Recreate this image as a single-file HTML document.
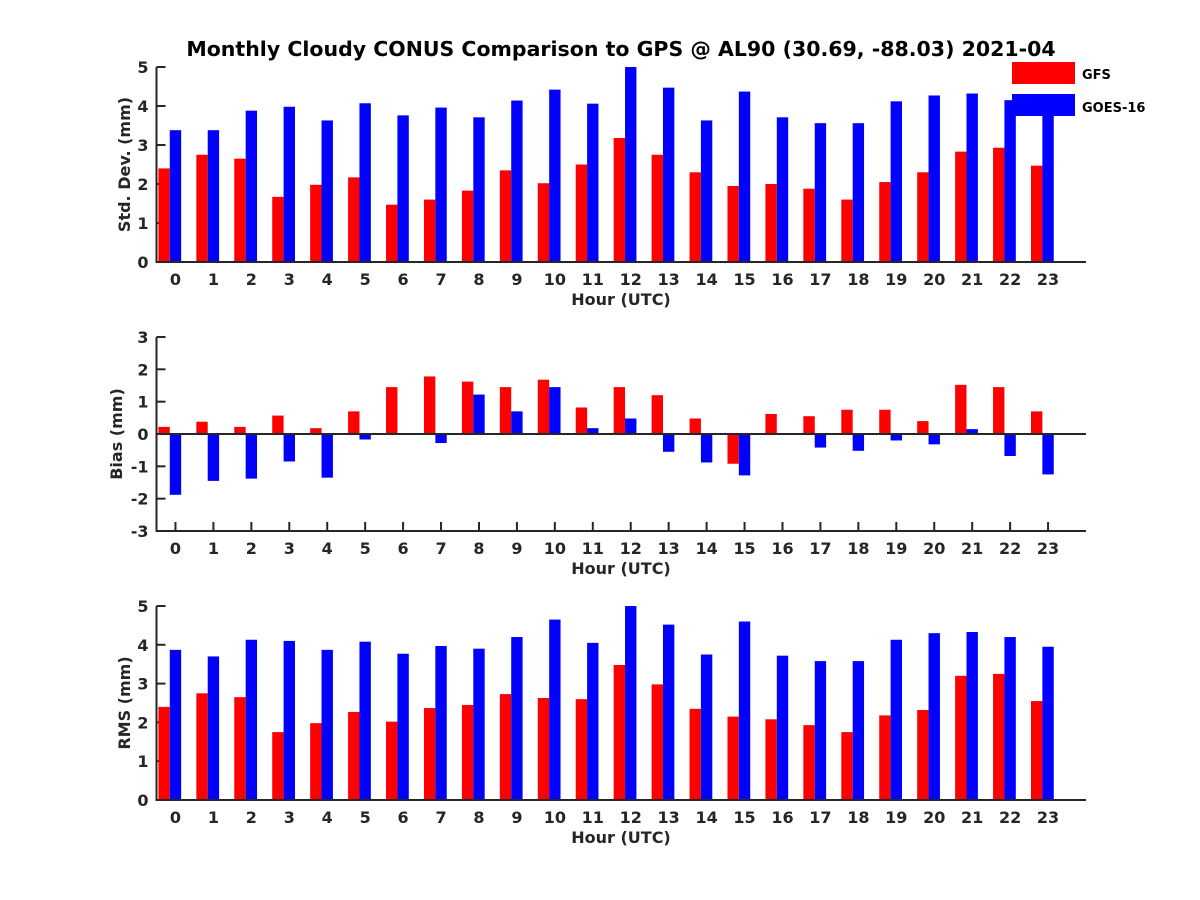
<!DOCTYPE html>
<html><head><meta charset="utf-8"><style>
body{margin:0;background:#fff;}
svg{display:block;font-family:"DejaVu Sans","Liberation Sans",sans-serif;font-weight:bold;}
</style></head><body>
<svg id="chart" width="1200" height="900" viewBox="0 0 1200 900"></svg>
<script>
const hours=[0,1,2,3,4,5,6,7,8,9,10,11,12,13,14,15,16,17,18,19,20,21,22,23];
const stdGFS=[2.4,2.75,2.65,1.67,1.98,2.17,1.47,1.6,1.83,2.35,2.02,2.5,3.18,2.75,2.3,1.95,2.0,1.88,1.6,2.05,2.3,2.83,2.93,2.47];
const stdGOES=[3.38,3.38,3.88,3.98,3.63,4.07,3.76,3.96,3.71,4.14,4.42,4.06,5.0,4.47,3.63,4.37,3.71,3.56,3.56,4.12,4.27,4.32,4.15,3.88];
const biasGFS=[0.22,0.38,0.22,0.57,0.18,0.7,1.45,1.78,1.62,1.45,1.68,0.82,1.45,1.2,0.48,-0.92,0.62,0.55,0.75,0.75,0.4,1.52,1.45,0.7];
const biasGOES=[-1.88,-1.45,-1.38,-0.85,-1.35,-0.17,0,-0.28,1.22,0.7,1.45,0.18,0.48,-0.55,-0.88,-1.28,0.03,-0.42,-0.52,-0.2,-0.32,0.15,-0.68,-1.25];
const rmsGFS=[2.4,2.75,2.65,1.75,1.98,2.27,2.02,2.37,2.45,2.73,2.63,2.6,3.48,2.98,2.35,2.15,2.08,1.93,1.75,2.18,2.32,3.2,3.25,2.55];
const rmsGOES=[3.87,3.7,4.13,4.1,3.87,4.08,3.77,3.97,3.9,4.2,4.65,4.05,5.0,4.52,3.75,4.6,3.72,3.58,3.58,4.13,4.3,4.33,4.2,3.95];
const stdTicks=[0,1,2,3,4,5];
const biasTicks=[-3,-2,-1,0,1,2,3];
const rmsTicks=[0,1,2,3,4,5];

const svg=document.getElementById('chart');
const NS='http://www.w3.org/2000/svg';
function mk(tag,attrs,parent){const e=document.createElementNS(NS,tag);for(const k in attrs)e.setAttribute(k,attrs[k]);(parent||svg).appendChild(e);return e;}
const X0=156.5,X1=1086,XMIN=-0.5,XMAX=24;
function xs(v){return X0+(v-XMIN)/(XMAX-XMIN)*(X1-X0);}
const BW=0.3;
const C='#262626';

function panel(name,top,bottom,ymin,ymax,ticks,red,blue,ylabel,ylx,zeroLine){
  const g=mk('g',{});
  
  
  const ys=v=>bottom-(v-ymin)/(ymax-ymin)*(bottom-top);
  hours.forEach(h=>{
    mk('line',{x1:xs(h),x2:xs(h),y1:bottom,y2:bottom-9,stroke:C,'stroke-width':2},g);
  });
  ticks.forEach(t=>{
    mk('line',{x1:X0,x2:X0+9,y1:ys(t),y2:ys(t),stroke:C,'stroke-width':2},g);
  });
  hours.forEach((h,i)=>{
    [[red[i],-BW,'#ff0000','gfs'],[blue[i],0,'#0000ff','goes16']].forEach(([v,off,col,s])=>{
      const y0=ys(0),y1=ys(v);
      const w=xs(BW)-xs(0);
      const r=mk('rect',{x:xs(h+off)-w/2,y:Math.min(y0,y1),width:w,height:Math.abs(y1-y0),fill:col},g);
      
      
    });
  });
  const ax=mk('path',{d:`M${X0},${top} L${X0},${bottom} L${X1},${bottom}`,stroke:C,'stroke-width':2,fill:'none'},g);
  
  
  if(zeroLine){const z=mk('line',{x1:X0,x2:X1,y1:ys(0),y2:ys(0),stroke:C,'stroke-width':2},g);
    
    }
  ticks.forEach(t=>{
    const tx=mk('text',{x:X0-8,y:ys(t)+6,'text-anchor':'end','font-size':16,fill:C},g);
    tx.textContent=t;
    
    
  });
  hours.forEach(h=>{
    const tx=mk('text',{x:xs(h),y:bottom+23,'text-anchor':'middle','font-size':16,fill:C},g);
    tx.textContent=h;
    
    
  });
  const xl=mk('text',{x:621,y:bottom+43,'text-anchor':'middle','font-size':16,fill:C},g);
  xl.textContent='Hour (UTC)';
  
  
  const cy=(top+bottom)/2;
  const yl=mk('text',{x:ylx,y:cy,'text-anchor':'middle','font-size':16,fill:C,transform:`rotate(-90 ${ylx} ${cy})`},g);
  yl.textContent=ylabel;
  
  
}
panel('std',67,262,0,5,stdTicks,stdGFS,stdGOES,'Std. Dev. (mm)',130,false);
panel('bias',337,531,-3,3,biasTicks,biasGFS,biasGOES,'Bias (mm)',122,true);
panel('rms',606,800,0,5,rmsTicks,rmsGFS,rmsGOES,'RMS (mm)',130,false);

const t=mk('text',{x:621,y:56,'text-anchor':'middle','font-size':20.5,fill:'#000'});
t.textContent='Monthly Cloudy CONUS Comparison to GPS @ AL90 (30.69, -88.03) 2021-04';



const lg=mk('g',{});


const r1=mk('rect',{x:1012,y:62,width:63,height:22,fill:'#ff0000'},lg);


const l1=mk('text',{x:1082,y:79,'font-size':13,fill:'#000'},lg);
l1.textContent='GFS';


const r2=mk('rect',{x:1012,y:94,width:63,height:22,fill:'#0000ff'},lg);


const l2=mk('text',{x:1082,y:112,'font-size':13,fill:'#000'},lg);
l2.textContent='GOES-16';


</script>
</body></html>
